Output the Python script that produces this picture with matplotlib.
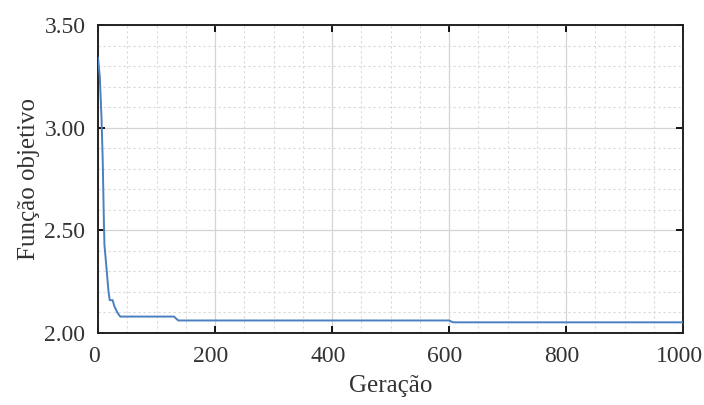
import matplotlib
matplotlib.use("Agg")
import matplotlib.pyplot as plt
from matplotlib.ticker import MultipleLocator
from matplotlib.transforms import ScaledTranslation

# Best objective value per generation (convergence history)
generations = [0, 3, 6, 8, 10, 11, 15, 18, 20, 25, 28, 33, 38, 130, 137, 600, 607, 1000]
objective = [3.34, 3.25, 3.05, 2.85, 2.55, 2.43, 2.30, 2.20, 2.16, 2.16, 2.13, 2.10,
             2.08, 2.08, 2.061, 2.061, 2.052, 2.052]

x_ticks = [0, 200, 400, 600, 800, 1000]
y_ticks = [2.00, 2.50, 3.00, 3.50]
y_ticklabels = ["2.00", "2.50", "3.00", "3.50"]

plt.rcParams["font.family"] = ["Liberation Serif", "DejaVu Serif"]

fig = plt.figure(figsize=(7.04, 4.05), dpi=100)
ax = fig.add_axes([98 / 704, 1 - 333 / 405, 585 / 704, 308 / 405])

ax.plot(generations, objective, color="#4a7fc0", lw=1.4, zorder=3)

ax.set_xlim(0, 1000)
ax.set_ylim(2.0, 3.5)
ax.set_xticks(x_ticks)
ax.set_yticks(y_ticks)
ax.set_yticklabels(y_ticklabels)
ax.xaxis.set_minor_locator(MultipleLocator(50))
ax.yaxis.set_minor_locator(MultipleLocator(0.1))

ax.grid(which="major", color="#d4d4d4", lw=0.9, ls="-")
ax.grid(which="minor", color="#d8d8d8", lw=0.8, ls=(0, (2, 2.5)))
ax.set_axisbelow(True)

ax.tick_params(which="major", direction="in", length=5, width=1.3,
               top=True, right=True, labelsize=17, colors="black", pad=9)
ax.tick_params(which="minor", length=0)

# nudge the x tick labels slightly left so the last one stays inside the figure
shift = ScaledTranslation(-4 / 100, 0, fig.dpi_scale_trans)
for lbl in ax.get_xticklabels():
    lbl.set_transform(lbl.get_transform() + shift)
for lbl in ax.get_xticklabels() + ax.get_yticklabels():
    lbl.set_color("#333333")

for s in ax.spines.values():
    s.set_linewidth(1.4)
    s.set_color("#222222")

ax.set_xlabel("Geração", fontsize=18, color="#333333", labelpad=6)
ax.set_ylabel("Função objetivo", fontsize=18, color="#333333", labelpad=3)

fig.savefig("out.png", dpi=100)
